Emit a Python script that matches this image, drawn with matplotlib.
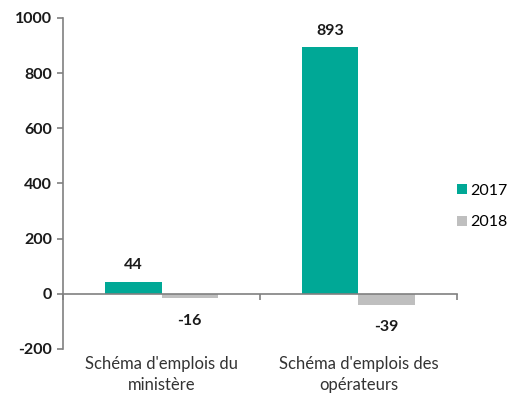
import matplotlib
matplotlib.use("Agg")
import matplotlib.pyplot as plt
from matplotlib.transforms import blended_transform_factory

plt.rcParams['font.family'] = ['Lato', 'DejaVu Sans']

categories = ["Schéma d'emplois du\nministère", "Schéma d'emplois des\nopérateurs"]
series_names = ["2017", "2018"]
values_2017 = [44, 893]
values_2018 = [-16, -39]
yticks = [-200, 0, 200, 400, 600, 800, 1000]

colors = ["#00A896", "#BFBFBF"]
axis_color = "#808080"

fig = plt.figure(figsize=(5.11, 3.96), dpi=100)
ax = fig.add_axes([0.1233, 0.1187, 0.771, 0.836])

x = list(range(len(categories)))
w = 0.285
b1 = ax.bar([i - w / 2 for i in x], values_2017, width=w, color=colors[0], label=series_names[0])
b2 = ax.bar([i + w / 2 for i in x], values_2018, width=w, color=colors[1], label=series_names[1])

ax.set_xlim(-0.5, 1.5)
ax.set_ylim(-200, 1000)
ax.set_yticks(yticks)
ax.set_yticklabels([str(t) for t in yticks], fontsize=11.5, fontweight='bold', color='#1a1a1a')

for s in ['top', 'right']:
    ax.spines[s].set_visible(False)
ax.spines['left'].set_color(axis_color)
ax.spines['left'].set_linewidth(1.2)
ax.spines['bottom'].set_position(('data', 0))
ax.spines['bottom'].set_color(axis_color)
ax.spines['bottom'].set_linewidth(1.2)

ax.set_xticks([-0.5, 0.5, 1.5])
ax.set_xticklabels([])
ax.tick_params(axis='x', direction='out', length=4, color=axis_color, width=1.2)
ax.tick_params(axis='y', direction='out', length=4, color=axis_color, width=1.2, pad=4)

# value labels
for bars, vals in ((b1, values_2017), (b2, values_2018)):
    for rect, v in zip(bars, vals):
        cx = rect.get_x() + rect.get_width() / 2
        if v >= 0:
            ax.annotate(str(v), (cx, v), xytext=(0, 7), textcoords='offset points',
                        ha='center', va='bottom', fontsize=11.5, fontweight='bold', color='#1a1a1a')
        else:
            ax.annotate(str(v), (cx, v), xytext=(0, -11), textcoords='offset points',
                        ha='center', va='top', fontsize=11.5, fontweight='bold', color='#1a1a1a')

# category labels below the plot
trans = blended_transform_factory(ax.transData, ax.transAxes)
for i, lab in zip(x, categories):
    ax.text(i, -0.022, lab, transform=trans, ha='center', va='top', fontsize=12,
            color='#333333', linespacing=1.35)

leg = ax.legend(loc='center left', bbox_to_anchor=(1.0, 0.43), frameon=False,
                fontsize=11.5, handlelength=0.6, handleheight=0.6, handletextpad=0.25,
                labelspacing=1.1, borderaxespad=0.0, borderpad=0.0)

fig.savefig("out.png", dpi=100)
